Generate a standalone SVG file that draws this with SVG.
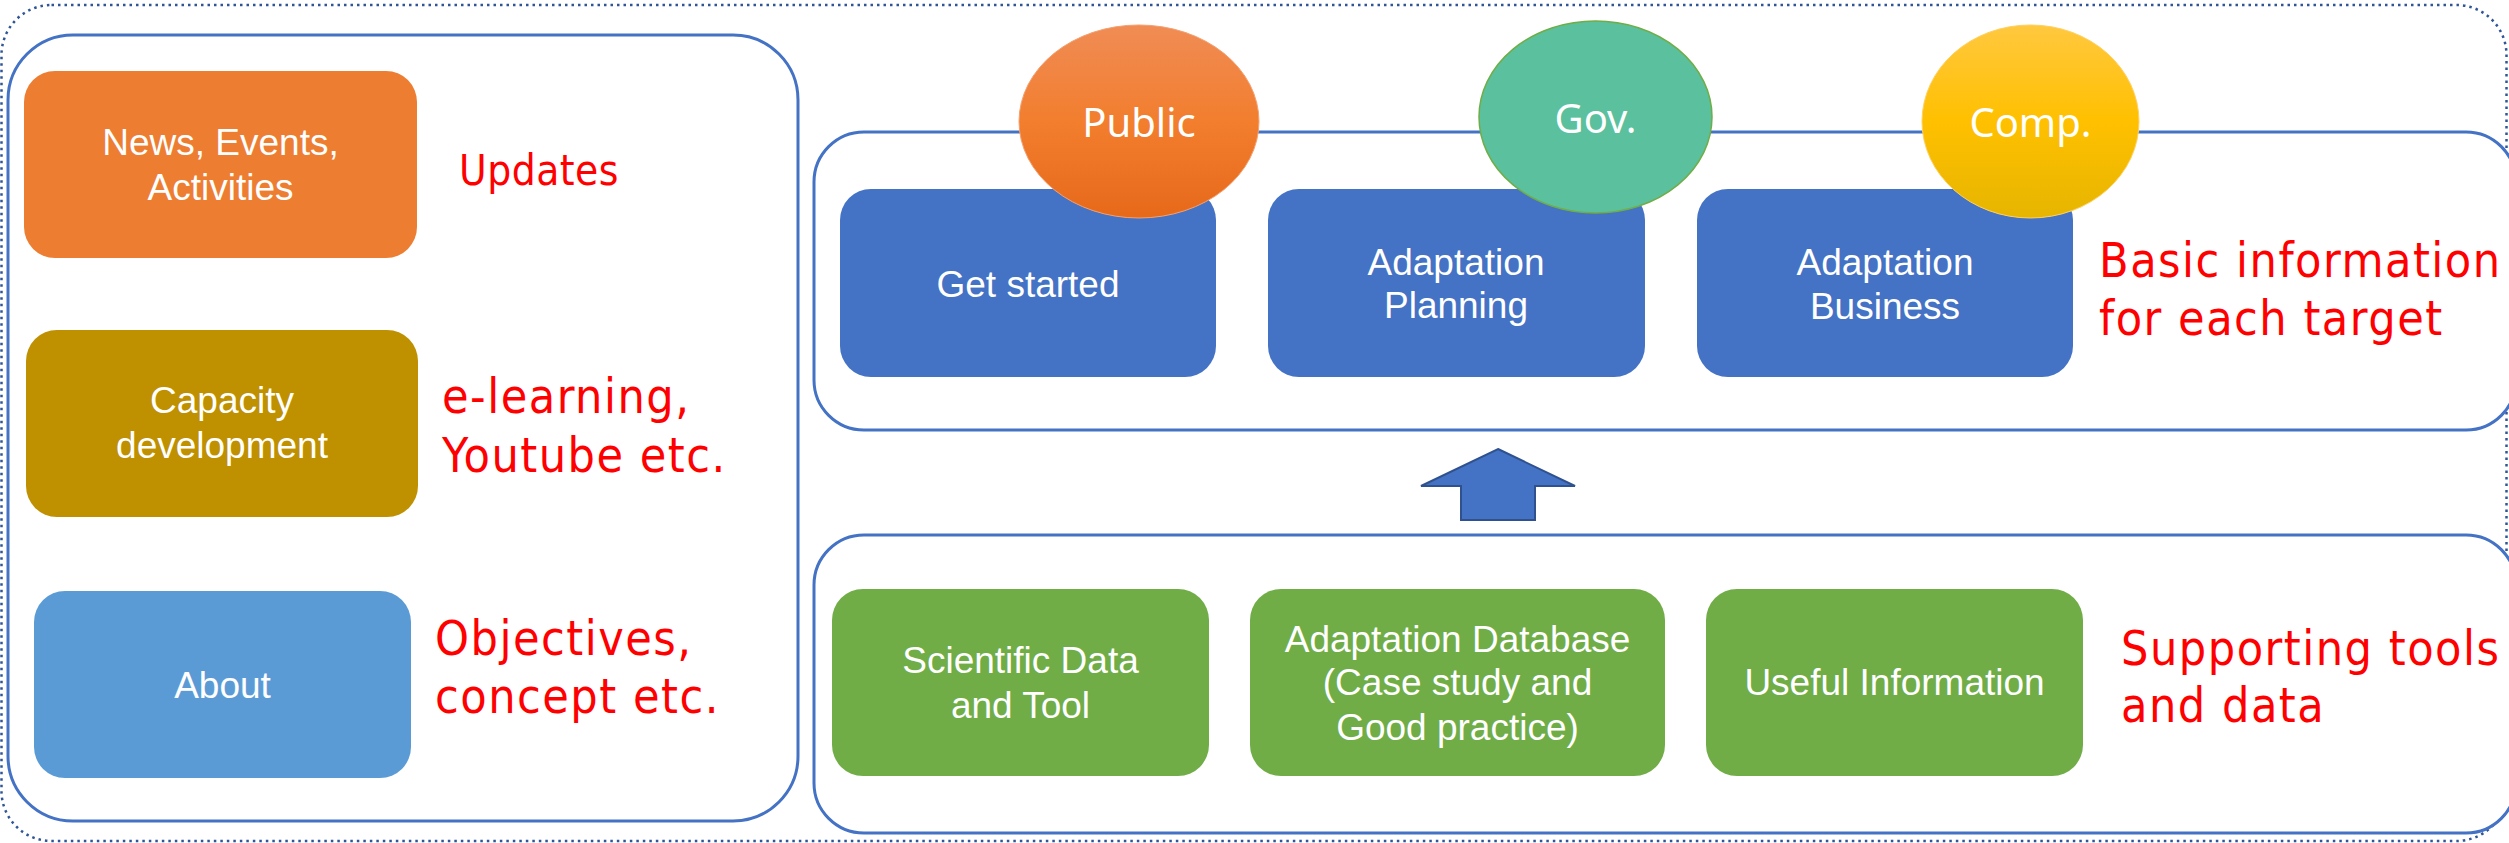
<svg xmlns="http://www.w3.org/2000/svg" width="2509" height="843" viewBox="0 0 2509 843">
<style>
.panel{fill:#FFFFFF;stroke:#4472C4;stroke-width:3}
.box{stroke:none}
.wt{font-family:"Liberation Sans",Arial,sans-serif;font-size:37px;fill:#FFFFFF;text-anchor:middle}
.et{font-family:"Noto Sans","Open Sans",sans-serif;font-size:40px;fill:#FFFFFF;text-anchor:middle}
.rt{font-family:"DejaVu Sans Condensed","DejaVu Sans",sans-serif;font-stretch:condensed;font-size:48px;letter-spacing:1.5px;fill:#FF0000}
</style>
<defs>
<linearGradient id="gPub" x1="0" y1="0" x2="0" y2="1">
<stop offset="0" stop-color="#F08C55"/>
<stop offset="0.5" stop-color="#F27E2E"/>
<stop offset="1" stop-color="#E7691A"/>
</linearGradient>
<linearGradient id="gComp" x1="0" y1="0" x2="0" y2="1">
<stop offset="0" stop-color="#FFC83F"/>
<stop offset="0.5" stop-color="#FFC000"/>
<stop offset="1" stop-color="#E6B500"/>
</linearGradient>
</defs>
<rect x="1.5" y="5" width="2505" height="836" rx="50" fill="#FFFFFF" stroke="#2F5597" stroke-width="2.5" stroke-dasharray="2.5 4"/>

<g id="left-panel">
<rect class="panel" x="8" y="35" width="790" height="786" rx="65"/>
</g>
<g id="news">
<rect class="box" x="24" y="71" width="393" height="187" rx="31" fill="#ED7D31"/>
<text class="wt"><tspan x="220.5" y="155">News, Events,</tspan><tspan x="220.5" y="200">Activities</tspan></text>
</g>
<text class="rt" x="459" y="185" style="font-size:42px;letter-spacing:0.5px">Updates</text>
<g id="capacity">
<rect class="box" x="26" y="330" width="392" height="187" rx="31" fill="#BF9000"/>
<text class="wt"><tspan x="222" y="413">Capacity</tspan><tspan x="222" y="458">development</tspan></text>
</g>
<text class="rt"><tspan x="442" y="413">e-learning,</tspan><tspan x="442" y="472">Youtube etc.</tspan></text>
<g id="about">
<rect class="box" x="34" y="591" width="377" height="187" rx="31" fill="#5B9BD5"/>
<text class="wt" x="222.5" y="698">About</text>
</g>
<text class="rt"><tspan x="435" y="655">Objectives,</tspan><tspan x="435" y="713">concept etc.</tspan></text>

<g id="top-panel">
<rect class="panel" x="814" y="132" width="1702" height="298" rx="50"/>
</g>
<g id="get-started">
<rect class="box" x="840" y="189" width="376" height="188" rx="31" fill="#4472C4"/>
<text class="wt" x="1028" y="297">Get started</text>
</g>
<g id="adaptation-planning">
<rect class="box" x="1268" y="189" width="377" height="188" rx="31" fill="#4472C4"/>
<text class="wt"><tspan x="1456" y="275">Adaptation</tspan><tspan x="1456" y="318">Planning</tspan></text>
</g>
<g id="adaptation-business">
<rect class="box" x="1697" y="189" width="376" height="188" rx="31" fill="#4472C4"/>
<text class="wt"><tspan x="1885" y="275">Adaptation</tspan><tspan x="1885" y="319">Business</tspan></text>
</g>
<g id="public">
<ellipse cx="1139" cy="121.5" rx="120" ry="96.5" fill="url(#gPub)" stroke="#F4A070" stroke-width="1"/>
<text class="et" x="1139" y="137">Public</text>
</g>
<g id="gov">
<ellipse cx="1595.5" cy="117" rx="116.5" ry="96" fill="#5BC09E" stroke="#70AD47" stroke-width="1.5"/>
<text class="et" x="1595.5" y="133">Gov.</text>
</g>
<g id="comp">
<ellipse cx="2030.5" cy="121.5" rx="108.5" ry="96.5" fill="url(#gComp)" stroke="#FFD060" stroke-width="1"/>
<text class="et" x="2030.5" y="137">Comp.</text>
</g>
<text class="rt"><tspan x="2099" y="277">Basic information</tspan><tspan x="2099" y="335">for each target</tspan></text>

<g id="bottom-panel">
<rect class="panel" x="814" y="535" width="1702" height="298" rx="50"/>
</g>
<g id="scientific">
<rect class="box" x="832" y="589" width="377" height="187" rx="31" fill="#70AD47"/>
<text class="wt"><tspan x="1020.5" y="673">Scientific Data</tspan><tspan x="1020.5" y="718">and Tool</tspan></text>
</g>
<g id="database">
<rect class="box" x="1250" y="589" width="415" height="187" rx="31" fill="#70AD47"/>
<text class="wt"><tspan x="1457.5" y="652">Adaptation Database</tspan><tspan x="1457.5" y="695">(Case study and</tspan><tspan x="1457.5" y="740">Good practice)</tspan></text>
</g>
<g id="useful">
<rect class="box" x="1706" y="589" width="377" height="187" rx="31" fill="#70AD47"/>
<text class="wt" x="1894.5" y="695">Useful Information</text>
</g>
<text class="rt"><tspan x="2121" y="665">Supporting tools</tspan><tspan x="2121" y="722">and data</tspan></text>

<g id="connectors">
<polygon points="1498,449 1575,486 1535,486 1535,520 1461,520 1461,486 1421,486" fill="#4472C4" stroke="#2F528F" stroke-width="2" stroke-linejoin="miter"/>
</g>
</svg>
